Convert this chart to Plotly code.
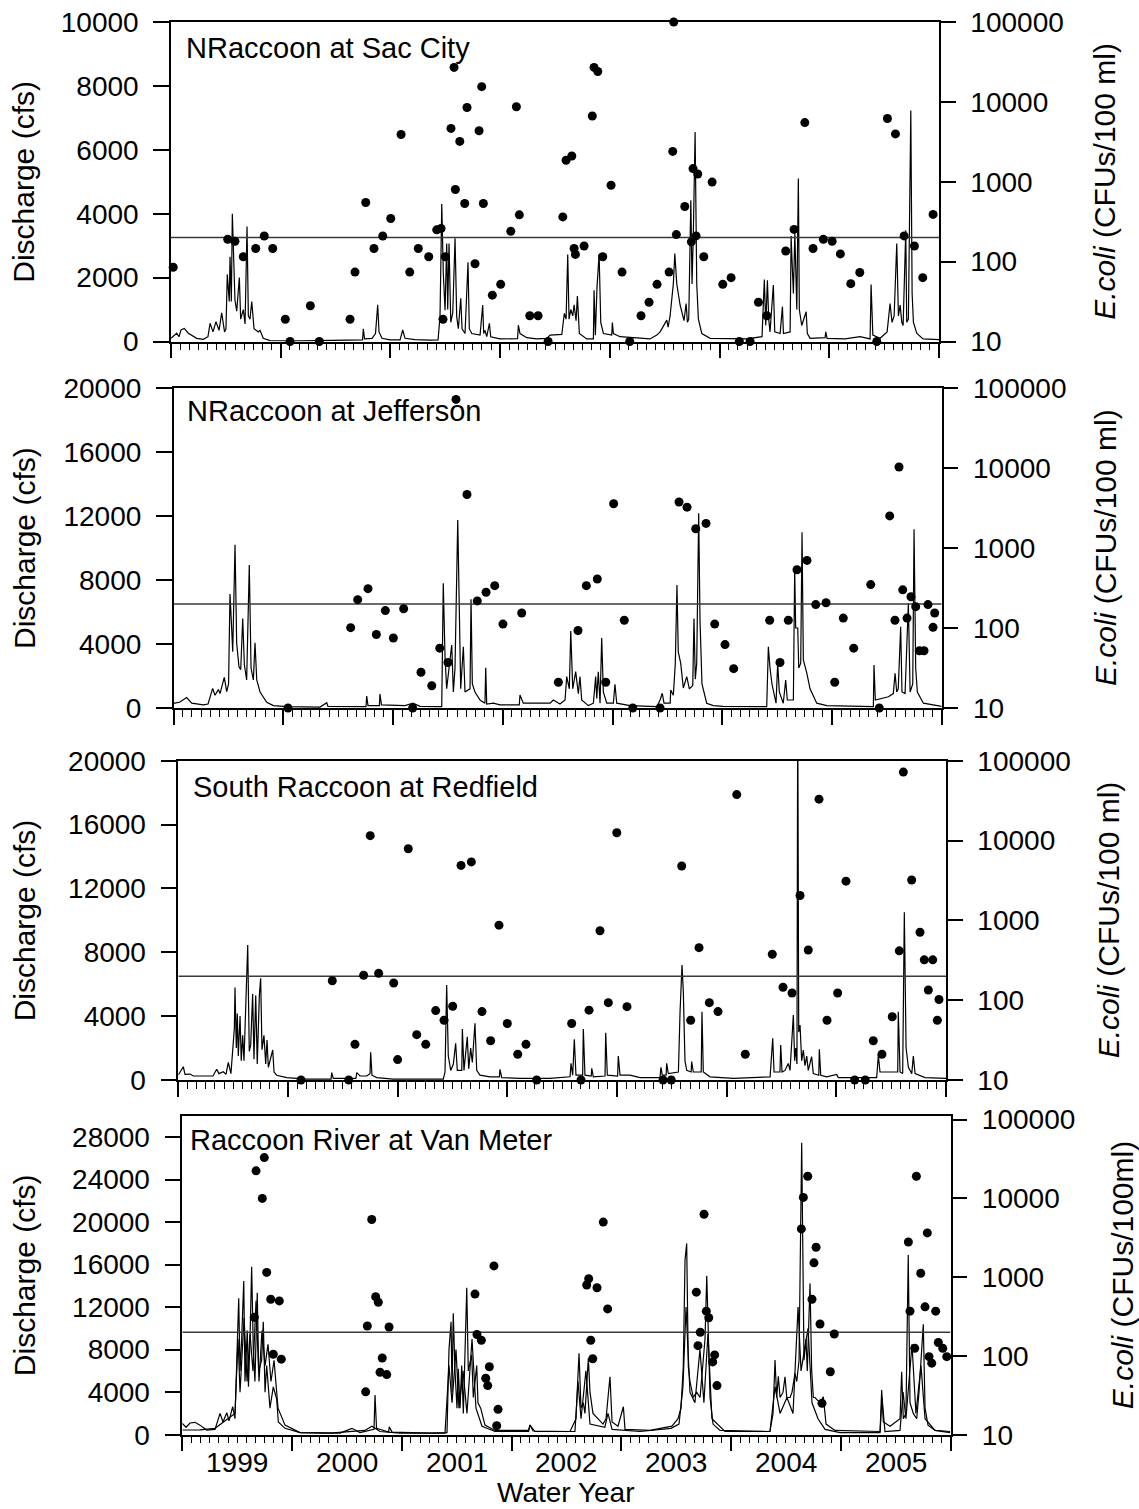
import plotly.graph_objects as go

# Time is expressed as decimal years; a water year starts on Oct 1 (x.75).
WY_START, WY_END = 1998.75, 2005.75
ECOLI_STANDARD = 200  # CFUs/100 ml reference line

# ---------------- NRaccoon at Sac City ----------------
SAC_FLOW = [
    (1998.750, 100), (1998.802, 260), (1998.823, 150), (1998.841, 360), (1998.871, 410),
    (1998.908, 260), (1998.984, 100), (1999.044, 70), (1999.087, 150), (1999.106, 570),
    (1999.133, 300), (1999.160, 620), (1999.188, 350), (1999.212, 900), (1999.238, 300),
    (1999.251, 400), (1999.263, 2100), (1999.281, 1250), (1999.288, 2650), (1999.300, 1250),
    (1999.309, 4000), (1999.322, 2300), (1999.333, 1300), (1999.349, 950), (1999.373, 2000),
    (1999.385, 700), (1999.409, 1000), (1999.425, 550), (1999.443, 3600), (1999.455, 800),
    (1999.470, 700), (1999.486, 1250), (1999.507, 400), (1999.546, 300), (1999.561, 350),
    (1999.591, 100), (1999.652, 30), (1999.926, 20), (2000.199, 30), (2000.382, 40),
    (2000.473, 60), (2000.496, 50), (2000.503, 400), (2000.514, 80), (2000.582, 100),
    (2000.614, 250), (2000.634, 1150), (2000.646, 300), (2000.673, 100), (2000.746, 50),
    (2000.838, 50), (2000.862, 360), (2000.883, 100), (2000.974, 60), (2001.111, 40),
    (2001.184, 50), (2001.202, 780), (2001.218, 4300), (2001.232, 2130), (2001.248, 980),
    (2001.263, 3070), (2001.272, 1000), (2001.284, 3070), (2001.300, 600), (2001.318, 900),
    (2001.339, 3230), (2001.354, 780), (2001.369, 400), (2001.391, 1350), (2001.403, 400),
    (2001.430, 250), (2001.457, 2480), (2001.469, 400), (2001.491, 250), (2001.567, 200),
    (2001.591, 1140), (2001.600, 250), (2001.612, 350), (2001.628, 150), (2001.652, 570),
    (2001.664, 150), (2001.749, 80), (2001.909, 90), (2001.916, 510), (2001.931, 250),
    (2001.993, 120), (2002.084, 80), (2002.175, 100), (2002.205, 200), (2002.312, 220),
    (2002.335, 880), (2002.351, 700), (2002.366, 2720), (2002.378, 700), (2002.394, 1000),
    (2002.412, 800), (2002.424, 1150), (2002.442, 650), (2002.454, 1420), (2002.472, 250),
    (2002.539, 80), (2002.600, 80), (2002.606, 1600), (2002.618, 200), (2002.633, 1710),
    (2002.652, 2730), (2002.667, 600), (2002.691, 250), (2002.767, 200), (2002.773, 590),
    (2002.782, 250), (2002.843, 150), (2003.116, 80), (2003.178, 200), (2003.208, 300),
    (2003.269, 670), (2003.281, 450), (2003.299, 800), (2003.329, 1820), (2003.342, 2750),
    (2003.360, 1800), (2003.390, 1150), (2003.426, 650), (2003.445, 1190), (2003.457, 600),
    (2003.469, 700), (2003.488, 4420), (2003.499, 1800), (2003.511, 3380), (2003.527, 6560),
    (2003.542, 1800), (2003.557, 700), (2003.588, 250), (2003.664, 100), (2003.998, 80),
    (2004.137, 150), (2004.158, 1940), (2004.171, 500), (2004.186, 1920), (2004.198, 700),
    (2004.210, 300), (2004.240, 1770), (2004.253, 300), (2004.302, 250), (2004.323, 1090),
    (2004.332, 250), (2004.393, 300), (2004.402, 3300), (2004.414, 2230), (2004.423, 1500),
    (2004.436, 3380), (2004.454, 1000), (2004.468, 5100), (2004.477, 1000), (2004.499, 500),
    (2004.539, 930), (2004.550, 250), (2004.575, 100), (2004.712, 120), (2004.718, 300),
    (2004.730, 100), (2004.894, 80), (2005.031, 150), (2005.122, 80), (2005.131, 1780),
    (2005.147, 200), (2005.213, 100), (2005.277, 300), (2005.304, 1190), (2005.322, 600),
    (2005.341, 800), (2005.365, 3070), (2005.380, 800), (2005.396, 1140), (2005.411, 600),
    (2005.423, 500), (2005.447, 3480), (2005.456, 600), (2005.471, 700), (2005.493, 7230),
    (2005.505, 1500), (2005.517, 600), (2005.548, 250), (2005.605, 80), (2005.750, 60),
]
SAC_ECOLI = [
    (1998.770, 85), (1999.267, 190), (1999.333, 180), (1999.409, 115), (1999.522, 146),
    (1999.600, 209), (1999.677, 146), (1999.792, 19), (1999.835, 10), (2000.020, 28),
    (2000.102, 10), (2000.382, 19), (2000.427, 74), (2000.525, 550), (2000.600, 146),
    (2000.680, 209), (2000.753, 347), (2000.847, 3900), (2000.926, 74), (2001.004, 146),
    (2001.099, 115), (2001.172, 250), (2001.211, 260), (2001.229, 19), (2001.250, 115),
    (2001.302, 4650), (2001.330, 27000), (2001.342, 800), (2001.382, 3200), (2001.427, 535),
    (2001.448, 8500), (2001.521, 94), (2001.558, 4350), (2001.582, 15500), (2001.597, 535),
    (2001.679, 38), (2001.755, 52), (2001.847, 240), (2001.898, 8700), (2001.925, 385),
    (2002.020, 21), (2002.096, 21), (2002.187, 10), (2002.321, 363), (2002.351, 1860),
    (2002.403, 2100), (2002.424, 146), (2002.436, 123), (2002.515, 157), (2002.590, 6650),
    (2002.606, 27000), (2002.640, 24000), (2002.685, 115), (2002.761, 905), (2002.861, 74),
    (2002.931, 10), (2003.034, 21), (2003.107, 31), (2003.180, 52), (2003.290, 74),
    (2003.323, 2400), (2003.332, 100000), (2003.356, 218), (2003.433, 490), (2003.493, 177),
    (2003.508, 1460), (2003.536, 210), (2003.551, 1250), (2003.606, 115), (2003.682, 990),
    (2003.779, 52), (2003.855, 63), (2003.930, 10), (2004.028, 10), (2004.104, 31),
    (2004.180, 21), (2004.353, 136), (2004.429, 253), (2004.527, 5500), (2004.602, 146),
    (2004.696, 190), (2004.776, 180), (2004.851, 125), (2004.946, 53), (2005.028, 73),
    (2005.183, 10), (2005.280, 6200), (2005.353, 3970), (2005.432, 210), (2005.526, 157),
    (2005.602, 63), (2005.696, 390),
]

# ---------------- NRaccoon at Jefferson ----------------
JEF_FLOW = [
    (1998.750, 290), (1998.807, 375), (1998.868, 650), (1998.914, 300), (1999.020, 190),
    (1999.063, 250), (1999.105, 1230), (1999.126, 800), (1999.157, 1150), (1999.172, 900),
    (1999.211, 1920), (1999.233, 1020), (1999.250, 1500), (1999.263, 7130), (1999.272, 5900),
    (1999.288, 3520), (1999.309, 10200), (1999.324, 4040), (1999.345, 2580), (1999.361, 2400),
    (1999.379, 5600), (1999.394, 2700), (1999.415, 1750), (1999.439, 8940), (1999.455, 2500),
    (1999.476, 1750), (1999.491, 4080), (1999.507, 1750), (1999.537, 1000), (1999.598, 350),
    (1999.658, 150), (1999.780, 80), (2000.084, 60), (2000.145, 330), (2000.156, 100),
    (2000.403, 80), (2000.503, 90), (2000.509, 750), (2000.521, 150), (2000.625, 150),
    (2000.630, 875), (2000.644, 200),
    (2000.858, 150), (2000.931, 300), (2000.995, 100), (2001.193, 80), (2001.207, 7800),
    (2001.223, 3200), (2001.238, 1200), (2001.268, 3000), (2001.284, 3940), (2001.299, 1000),
    (2001.314, 2500), (2001.339, 11750), (2001.350, 7000), (2001.366, 1200), (2001.390, 3830),
    (2001.405, 1000), (2001.451, 1200), (2001.460, 6790), (2001.472, 1500), (2001.496, 1000),
    (2001.542, 500), (2001.587, 300), (2001.594, 2520), (2001.603, 250), (2001.663, 300),
    (2001.724, 200), (2001.900, 200), (2001.906, 810), (2001.937, 300), (2002.180, 300),
    (2002.210, 500),
    (2002.271, 250), (2002.317, 500), (2002.332, 1960), (2002.356, 1200), (2002.369, 4810),
    (2002.387, 1200), (2002.414, 2270), (2002.438, 900), (2002.453, 1960), (2002.469, 500),
    (2002.529, 150), (2002.575, 300), (2002.596, 1960), (2002.606, 600), (2002.620, 2270),
    (2002.636, 300), (2002.651, 4375), (2002.666, 1000), (2002.697, 300), (2002.757, 300),
    (2002.772, 1480), (2002.788, 300), (2002.909, 150), (2003.153, 80), (2003.183, 500),
    (2003.203, 920), (2003.219, 300), (2003.275, 300), (2003.280, 1125), (2003.304, 800),
    (2003.322, 2790),
    (2003.337, 7690), (2003.349, 3500), (2003.371, 2800), (2003.395, 1250), (2003.426, 1960),
    (2003.450, 1200), (2003.481, 1400), (2003.492, 5600), (2003.504, 1800), (2003.517, 2800),
    (2003.535, 12170), (2003.547, 5500), (2003.565, 1500), (2003.608, 300), (2003.668, 150),
    (2003.759, 100), (2004.155, 80), (2004.170, 3830), (2004.185, 2500), (2004.203, 1500),
    (2004.240, 300), (2004.255, 2790), (2004.270, 1000), (2004.306, 300), (2004.328, 1750),
    (2004.343, 500), (2004.398, 500), (2004.410, 8670), (2004.419, 5000), (2004.438, 5000),
    (2004.447, 2500), (2004.465, 2800), (2004.477, 10980), (2004.489, 3000), (2004.520, 2200),
    (2004.550, 1200), (2004.611, 300), (2004.702, 150), (2005.127, 80), (2005.133, 2690),
    (2005.145, 500), (2005.264, 700), (2005.309, 900), (2005.325, 2170), (2005.340, 1000),
    (2005.354, 1200), (2005.376, 5080), (2005.388, 1000), (2005.416, 900), (2005.446, 6540),
    (2005.462, 1000), (2005.486, 1500), (2005.498, 11170), (2005.513, 2500), (2005.528, 1000),
    (2005.583, 300), (2005.750, 100),
]
JEF_ECOLI = [
    (1999.792, 10), (2000.363, 101), (2000.427, 226), (2000.521, 310), (2000.597, 83),
    (2000.679, 165), (2000.752, 75), (2000.846, 174), (2000.928, 10), (2001.004, 28),
    (2001.102, 19), (2001.175, 56), (2001.250, 37), (2001.323, 72000), (2001.423, 4670),
    (2001.517, 218), (2001.597, 280), (2001.676, 338), (2001.751, 112), (2001.922, 154),
    (2002.256, 21), (2002.435, 93), (2002.511, 338), (2002.611, 410), (2002.688, 21),
    (2002.760, 3570), (2002.857, 125), (2002.934, 10), (2003.183, 10), (2003.356, 3760),
    (2003.429, 3240), (2003.508, 1740), (2003.602, 2030), (2003.681, 112), (2003.775, 62),
    (2003.854, 31), (2004.182, 125), (2004.276, 37), (2004.352, 125), (2004.431, 535),
    (2004.522, 700), (2004.602, 196), (2004.696, 207), (2004.775, 21), (2004.853, 133),
    (2004.948, 56), (2005.103, 349), (2005.181, 10), (2005.276, 2520), (2005.324, 125),
    (2005.361, 10300), (2005.395, 300), (2005.434, 133), (2005.470, 246), (2005.513, 185),
    (2005.546, 52), (2005.589, 52), (2005.625, 196), (2005.671, 102), (2005.686, 154),
]

# ---------------- South Raccoon at Redfield ----------------
RED_FLOW = [
    (1998.750, 310), (1998.796, 830), (1998.811, 350), (1998.857, 370), (1998.887, 250),
    (1999.066, 250), (1999.100, 670), (1999.121, 400), (1999.160, 520), (1999.185, 350),
    (1999.206, 1100), (1999.230, 400), (1999.261, 3230), (1999.267, 5800), (1999.279, 2000),
    (1999.288, 4170), (1999.297, 1500), (1999.313, 4000), (1999.324, 1200), (1999.337, 2800),
    (1999.349, 1200), (1999.367, 4800), (1999.383, 8450), (1999.397, 1800), (1999.410, 2200),
    (1999.428, 5380), (1999.440, 1300), (1999.456, 5300), (1999.470, 1000), (1999.489, 5300),
    (1999.501, 6370), (1999.513, 1900), (1999.531, 2800), (1999.547, 1000), (1999.559, 2500),
    (1999.571, 800), (1999.611, 1880), (1999.623, 500), (1999.647, 300), (1999.738, 150),
    (1999.921, 50), (2000.143, 60), (2000.149, 460), (2000.163, 100), (2000.370, 100),
    (2000.377, 460), (2000.407, 250),
    (2000.468, 250), (2000.498, 400), (2000.504, 1730), (2000.516, 300), (2000.559, 150),
    (2000.710, 50),
    (2001.166, 50), (2001.182, 500), (2001.197, 5950), (2001.212, 1500), (2001.234, 600),
    (2001.258, 1000), (2001.279, 2300), (2001.294, 600), (2001.335, 600), (2001.340, 3190),
    (2001.355, 600),
    (2001.385, 2710), (2001.398, 700), (2001.416, 2000), (2001.431, 1100), (2001.455, 3550),
    (2001.471, 600), (2001.501, 300), (2001.592, 200), (2001.678, 200), (2001.683, 670),
    (2001.699, 150), (2001.866, 100), (2002.139, 100), (2002.322, 200), (2002.331, 1040),
    (2002.346, 300), (2002.361, 2550), (2002.376, 300), (2002.437, 300), (2002.443, 3190),
    (2002.458, 300),
    (2002.515, 250), (2002.520, 730), (2002.534, 200), (2002.641, 250), (2002.647, 2960),
    (2002.662, 300), (2002.756, 250), (2002.762, 1500),
    (2002.778, 300), (2002.869, 300), (2002.960, 150), (2003.142, 150), (2003.151, 790),
    (2003.163, 300), (2003.198, 300), (2003.203, 1040), (2003.218, 400), (2003.310, 500),
    (2003.325, 4280),
    (2003.343, 7200), (2003.355, 5490), (2003.370, 1200), (2003.386, 600), (2003.426, 500),
    (2003.431, 1150), (2003.446, 500), (2003.518, 500), (2003.525, 4280), (2003.537, 500),
    (2003.598, 200),
    (2003.811, 100), (2004.146, 200), (2004.170, 2610), (2004.182, 500), (2004.236, 500),
    (2004.243, 2190), (2004.255, 500), (2004.282, 600), (2004.312, 1040), (2004.328, 600),
    (2004.358, 4070), (2004.370, 1200), (2004.380, 2000), (2004.391, 1000), (2004.398, 24000),
    (2004.407, 3000), (2004.419, 3440), (2004.434, 1200), (2004.449, 1880), (2004.464, 900),
    (2004.480, 1500), (2004.494, 600), (2004.525, 1460), (2004.540, 400), (2004.590, 300),
    (2004.595, 1920),
    (2004.608, 300), (2004.662, 200), (2004.753, 350), (2004.768, 150), (2005.118, 150),
    (2005.133, 1560), (2005.148, 500), (2005.269, 500), (2005.310, 500), (2005.315, 4280),
    (2005.331, 500),
    (2005.355, 400), (2005.370, 10500), (2005.386, 2000), (2005.407, 800), (2005.438, 400),
    (2005.452, 1500), (2005.468, 400), (2005.559, 150), (2005.750, 100),
]
RED_ECOLI = [
    (1999.869, 10), (2000.154, 175), (2000.304, 10), (2000.361, 28), (2000.440, 205),
    (2000.500, 11500), (2000.577, 217), (2000.714, 164), (2000.750, 18), (2000.847, 7900),
    (2000.924, 37), (2001.006, 28), (2001.097, 74), (2001.173, 56), (2001.252, 84),
    (2001.328, 4880), (2001.422, 5400), (2001.519, 72), (2001.598, 31), (2001.674, 870),
    (2001.750, 51), (2001.845, 21), (2001.920, 28), (2002.018, 10), (2002.337, 51),
    (2002.422, 10), (2002.495, 75), (2002.595, 740), (2002.671, 93), (2002.748, 12500),
    (2002.841, 83), (2003.170, 10), (2003.245, 10), (2003.340, 4800), (2003.422, 56),
    (2003.498, 455), (2003.592, 93), (2003.671, 72), (2003.842, 37600), (2003.920, 21),
    (2004.166, 376), (2004.264, 145), (2004.346, 123), (2004.419, 2050), (2004.494, 425),
    (2004.592, 33000), (2004.665, 56), (2004.762, 123), (2004.838, 3100), (2004.917, 10),
    (2005.014, 10), (2005.087, 31), (2005.166, 21), (2005.260, 62), (2005.324, 415),
    (2005.361, 72000), (2005.437, 3200), (2005.513, 710), (2005.552, 320), (2005.589, 134),
    (2005.629, 320), (2005.671, 56), (2005.686, 102),
]

# ---------------- Raccoon River at Van Meter ----------------
VM_FLOW = [
    (1998.750, 1070), (1998.784, 700), (1998.820, 1100), (1998.866, 1165), (1998.911, 900),
    (1998.972, 440), (1999.048, 500), (1999.094, 2010), (1999.121, 1200), (1999.155, 2070),
    (1999.176, 1300), (1999.209, 2630), (1999.230, 1500), (1999.248, 8000), (1999.264, 12820),
    (1999.276, 6000), (1999.291, 9000), (1999.310, 14450), (1999.321, 5000), (1999.342, 9800),
    (1999.353, 4500), (1999.367, 9000), (1999.382, 15790), (1999.397, 8000), (1999.412, 5000),
    (1999.433, 13350), (1999.446, 6000), (1999.473, 7000), (1999.488, 10620), (1999.504, 4000),
    (1999.519, 6500), (1999.549, 2500), (1999.579, 4500), (1999.610, 3360), (1999.625, 1200),
    (1999.686, 600), (1999.823, 200), (2000.187, 150), (2000.296, 600), (2000.369, 200),
    (2000.497, 500), (2000.506, 3730), (2000.520, 600), (2000.630, 250), (2000.636, 750),
    (2000.661, 250),
    (2001.007, 150), (2001.162, 200), (2001.180, 8000), (2001.199, 10620), (2001.208, 4000),
    (2001.219, 11410), (2001.235, 6000), (2001.253, 2500), (2001.265, 6200), (2001.281, 2500),
    (2001.296, 6500), (2001.311, 2000), (2001.342, 13820), (2001.356, 6000), (2001.387, 7500),
    (2001.402, 3500), (2001.433, 6500), (2001.444, 3000), (2001.469, 2500), (2001.508, 900),
    (2001.599, 400), (2001.905, 400), (2001.918, 910), (2001.946, 350), (2002.283, 300),
    (2002.337, 1500),
    (2002.365, 7650), (2002.383, 2500), (2002.404, 3000), (2002.419, 2000), (2002.450, 7180),
    (2002.465, 4000), (2002.492, 2000), (2002.584, 1000), (2002.611, 1500), (2002.647, 5450),
    (2002.666, 1200), (2002.720, 800), (2002.769, 2630), (2002.784, 500), (2003.012, 400),
    (2003.212, 800), (2003.267, 1500), (2003.294, 2500), (2003.315, 6390), (2003.331, 16420),
    (2003.346, 17990), (2003.361, 6390), (2003.376, 5000), (2003.406, 3500), (2003.437, 4000),
    (2003.468, 3500), (2003.498, 7020), (2003.513, 9000), (2003.529, 14950), (2003.543, 9000),
    (2003.559, 3500), (2003.586, 1000), (2003.650, 400), (2004.105, 300), (2004.133, 2000),
    (2004.151, 7020), (2004.166, 3500), (2004.181, 5500), (2004.197, 3500), (2004.224, 4000),
    (2004.242, 5450), (2004.258, 3500), (2004.288, 3500), (2004.306, 4000), (2004.333, 5770),
    (2004.349, 5000), (2004.370, 7000), (2004.394, 27450), (2004.403, 16000), (2004.415, 7000),
    (2004.433, 9000), (2004.445, 6000), (2004.470, 14230), (2004.485, 6000), (2004.500, 3500),
    (2004.515, 3500), (2004.561, 3000), (2004.591, 3570), (2004.616, 1000), (2004.698, 400),
    (2005.108, 300), (2005.123, 4200), (2005.138, 1200), (2005.199, 800), (2005.290, 1500),
    (2005.305, 5920), (2005.320, 1500), (2005.344, 2000), (2005.365, 16890), (2005.381, 3000),
    (2005.411, 2000), (2005.442, 1500), (2005.463, 4000), (2005.502, 10380), (2005.518, 2500),
    (2005.545, 900), (2005.609, 400), (2005.746, 200),
]
VM_FLOW_2 = [
    (1998.750, 440), (1998.911, 450), (1999.048, 600), (1999.139, 1300), (1999.230, 2000),
    (1999.258, 9000), (1999.276, 4000), (1999.313, 11000), (1999.340, 5000), (1999.367, 9500),
    (1999.394, 6000), (1999.422, 12600), (1999.449, 5000), (1999.476, 9800), (1999.504, 6500),
    (1999.531, 8500), (1999.558, 5000), (1999.586, 7000), (1999.622, 2500), (1999.686, 900),
    (1999.823, 200), (2000.096, 150), (2000.414, 400), (2000.478, 800), (2000.551, 300),
    (2000.733, 150), (2001.144, 150), (2001.180, 6500), (2001.208, 3000), (2001.244, 8000),
    (2001.271, 2500), (2001.308, 6000), (2001.344, 2000), (2001.390, 9000), (2001.426, 2500),
    (2001.481, 800), (2001.599, 300), (2001.905, 300), (2001.918, 900), (2001.964, 300),
    (2002.328, 300),
    (2002.356, 5000), (2002.383, 1500), (2002.428, 6000), (2002.465, 1000), (2002.600, 700),
    (2002.629, 2000),
    (2002.666, 500), (2002.921, 300), (2003.203, 600), (2003.276, 1000), (2003.312, 4500),
    (2003.340, 12000), (2003.376, 4000), (2003.421, 3000), (2003.467, 8000), (2003.503, 3000),
    (2003.540, 9500), (2003.576, 1500), (2003.695, 300), (2004.105, 300), (2004.151, 4500),
    (2004.197, 2000), (2004.260, 3500), (2004.315, 2000), (2004.361, 12000), (2004.388, 6000),
    (2004.452, 10000), (2004.488, 3000), (2004.543, 1500), (2004.607, 500), (2004.743, 200),
    (2005.108, 200), (2005.126, 3500), (2005.153, 300), (2005.290, 400), (2005.318, 4000),
    (2005.344, 1500), (2005.399, 8500), (2005.435, 2000), (2005.481, 6500), (2005.518, 1500),
    (2005.609, 400), (2005.746, 300),
]
VM_ECOLI = [
    (1999.406, 310), (1999.422, 22400), (1999.479, 10000), (1999.497, 33000), (1999.519, 1150),
    (1999.556, 525), (1999.579, 105), (1999.634, 500), (1999.652, 91),
    (2000.421, 35), (2000.436, 240), (2000.476, 5400), (2000.512, 565), (2000.536, 480),
    (2000.552, 62), (2000.572, 94), (2000.613, 58), (2000.634, 233),
    (2001.417, 610), (2001.435, 187), (2001.475, 158), (2001.515, 52), (2001.533, 42),
    (2001.548, 73), (2001.590, 1390), (2001.615, 13), (2001.627, 21),
    (2002.435, 795), (2002.453, 955), (2002.472, 158), (2002.490, 92), (2002.529, 735),
    (2002.586, 5000), (2002.626, 395),
    (2003.434, 645), (2003.449, 135), (2003.470, 200), (2003.504, 6300), (2003.525, 370),
    (2003.547, 305), (2003.583, 84), (2003.601, 103), (2003.622, 42),
    (2004.391, 4100), (2004.409, 10300), (2004.449, 19100), (2004.488, 525), (2004.506, 1520),
    (2004.525, 2400), (2004.561, 254), (2004.579, 25), (2004.655, 63), (2004.691, 190),
    (2005.366, 2800), (2005.381, 370), (2005.424, 125), (2005.439, 19100), (2005.479, 1120),
    (2005.518, 420), (2005.539, 3650), (2005.554, 98), (2005.579, 81), (2005.615, 370),
    (2005.639, 148), (2005.679, 125), (2005.716, 98),
]

YEARS = [1999, 2000, 2001, 2002, 2003, 2004, 2005]
ECOLI_TICKS = [10, 100, 1000, 10000, 100000]

W, H = 1139, 1509
FONT = "Liberation Sans, Arial, sans-serif"

PANELS = [
    dict(title="NRaccoon at Sac City", flows=[SAC_FLOW], ecoli=SAC_ECOLI,
         qmax=10000, qticks=list(range(0, 10001, 2000)), emax=5.0,
         px=(171, 939), py=(22, 341.5), title_xy=(184, 48),
         etitle="<i>E.coli</i> (CFUs/100 ml)", etitle_x=1105),
    dict(title="NRaccoon at Jefferson", flows=[JEF_FLOW], ecoli=JEF_ECOLI,
         qmax=20000, qticks=list(range(0, 20001, 4000)), emax=5.0,
         px=(173.7, 941.7), py=(388, 708), title_xy=(185, 411),
         etitle="<i>E.coli</i> (CFUs/100 ml)", etitle_x=1105),
    dict(title="South Raccoon at Redfield", flows=[RED_FLOW], ecoli=RED_ECOLI,
         qmax=20000, qticks=list(range(0, 20001, 4000)), emax=5.0,
         px=(178.3, 946), py=(760.7, 1080), title_xy=(191, 787),
         etitle="<i>E.coli</i> (CFUs/100 ml)", etitle_x=1108),
    dict(title="Raccoon River at Van Meter", flows=[VM_FLOW, VM_FLOW_2], ecoli=VM_ECOLI,
         qmax=30000, qticks=list(range(0, 28001, 4000)), emax=5.05,
         px=(182.3, 950.5), py=(1115.7, 1434.7), title_xy=(188, 1140),
         etitle="<i>E.coli</i> (CFUs/100ml)", etitle_x=1122),
]

fig = go.Figure()
layout = dict(
    width=W, height=H, autosize=False,
    margin=dict(l=0, r=0, t=0, b=0, pad=0, autoexpand=False),
    paper_bgcolor="white", plot_bgcolor="white",
    showlegend=False, font=dict(family=FONT, color="black", size=28),
    annotations=[],
)

for i, p in enumerate(PANELS):
    n = i + 1
    xname = "x" if n == 1 else f"x{n}"
    yl = "y" if n == 1 else f"y{2 * i + 1}"
    yr = f"y{2 * i + 2}"
    xdom = [p["px"][0] / W, p["px"][1] / W]
    ydom = [1 - p["py"][1] / H, 1 - p["py"][0] / H]

    for flow in p["flows"]:
        fig.add_trace(go.Scatter(
            x=[t for t, _ in flow], y=[q for _, q in flow],
            mode="lines", line=dict(color="black", width=1.2),
            xaxis=xname, yaxis=yl, hoverinfo="skip"))

    fig.add_trace(go.Scatter(
        x=[WY_START, WY_END], y=[ECOLI_STANDARD, ECOLI_STANDARD],
        mode="lines", line=dict(color="#3a3a3a", width=1.5),
        xaxis=xname, yaxis=yr, hoverinfo="skip"))
    fig.add_trace(go.Scatter(
        x=[t for t, _ in p["ecoli"]], y=[c for _, c in p["ecoli"]],
        mode="markers", marker=dict(color="black", size=9, line=dict(width=0)),
        cliponaxis=False, xaxis=xname, yaxis=yr))

    layout["xaxis" if n == 1 else f"xaxis{n}"] = dict(
        domain=xdom, range=[WY_START, WY_END], anchor=yl, automargin=False,
        tickmode="linear", tick0=WY_START, dtick=1,
        ticks="outside", ticklen=15, tickwidth=1.5, tickcolor="black",
        showticklabels=False, showgrid=False, zeroline=False,
        showline=True, mirror=True, linecolor="black", linewidth=1.5,
        minor=dict(tickmode="linear", tick0=WY_START, dtick=1 / 12,
                   ticks="outside", ticklen=7, tickwidth=1, tickcolor="black",
                   showgrid=False),
    )
    layout["yaxis" if n == 1 else f"yaxis{2 * i + 1}"] = dict(
        domain=ydom, range=[0, p["qmax"]], anchor=xname, automargin=False,
        tickmode="array", tickvals=p["qticks"],
        ticktext=[str(v) for v in p["qticks"]],
        ticks="outside", ticklen=16, tickwidth=1.5, tickcolor="black",
        tickfont=dict(size=28, family=FONT), ticklabelstandoff=9,
        showgrid=False, zeroline=False,
        showline=True, linecolor="black", linewidth=1.5,
    )
    layout[f"yaxis{2 * i + 2}"] = dict(
        domain=ydom, overlaying=yl, side="right", anchor=xname, automargin=False,
        type="log", range=[1, p["emax"]],
        tickmode="array", tickvals=ECOLI_TICKS,
        ticktext=[str(v) for v in ECOLI_TICKS],
        ticks="outside", ticklen=15, tickwidth=1.5, tickcolor="black",
        tickfont=dict(size=28, family=FONT), ticklabelstandoff=9,
        showgrid=False, zeroline=False,
        showline=True, linecolor="black", linewidth=1.5,
    )

    ymid = 1 - (p["py"][0] + p["py"][1]) / 2 / H
    layout["annotations"] += [
        dict(text=p["title"], xref="paper", yref="paper",
             x=p["title_xy"][0] / W, y=1 - p["title_xy"][1] / H,
             xanchor="left", yanchor="middle", showarrow=False,
             font=dict(size=29, family=FONT)),
        dict(text="Discharge (cfs)", xref="paper", yref="paper",
             x=24 / W, y=ymid, xanchor="center", yanchor="middle",
             textangle=-90, showarrow=False, font=dict(size=30, family=FONT)),
        dict(text=p["etitle"], xref="paper", yref="paper",
             x=p["etitle_x"] / W, y=ymid, xanchor="center", yanchor="middle",
             textangle=-90, showarrow=False, font=dict(size=30, family=FONT)),
    ]

# water-year labels under the bottom panel
for yr in YEARS:
    layout["annotations"].append(dict(
        text=str(yr), xref="x4", yref="paper", x=yr + 0.25, y=1 - 1462 / H,
        xanchor="center", yanchor="middle", showarrow=False,
        font=dict(size=28, family=FONT)))
layout["annotations"].append(dict(
    text="Water Year", xref="paper", yref="paper", x=565 / W, y=1 - 1492 / H,
    xanchor="center", yanchor="middle", showarrow=False,
    font=dict(size=28, family=FONT)))

fig.update_layout(**layout)
fig.write_html("out.html")
